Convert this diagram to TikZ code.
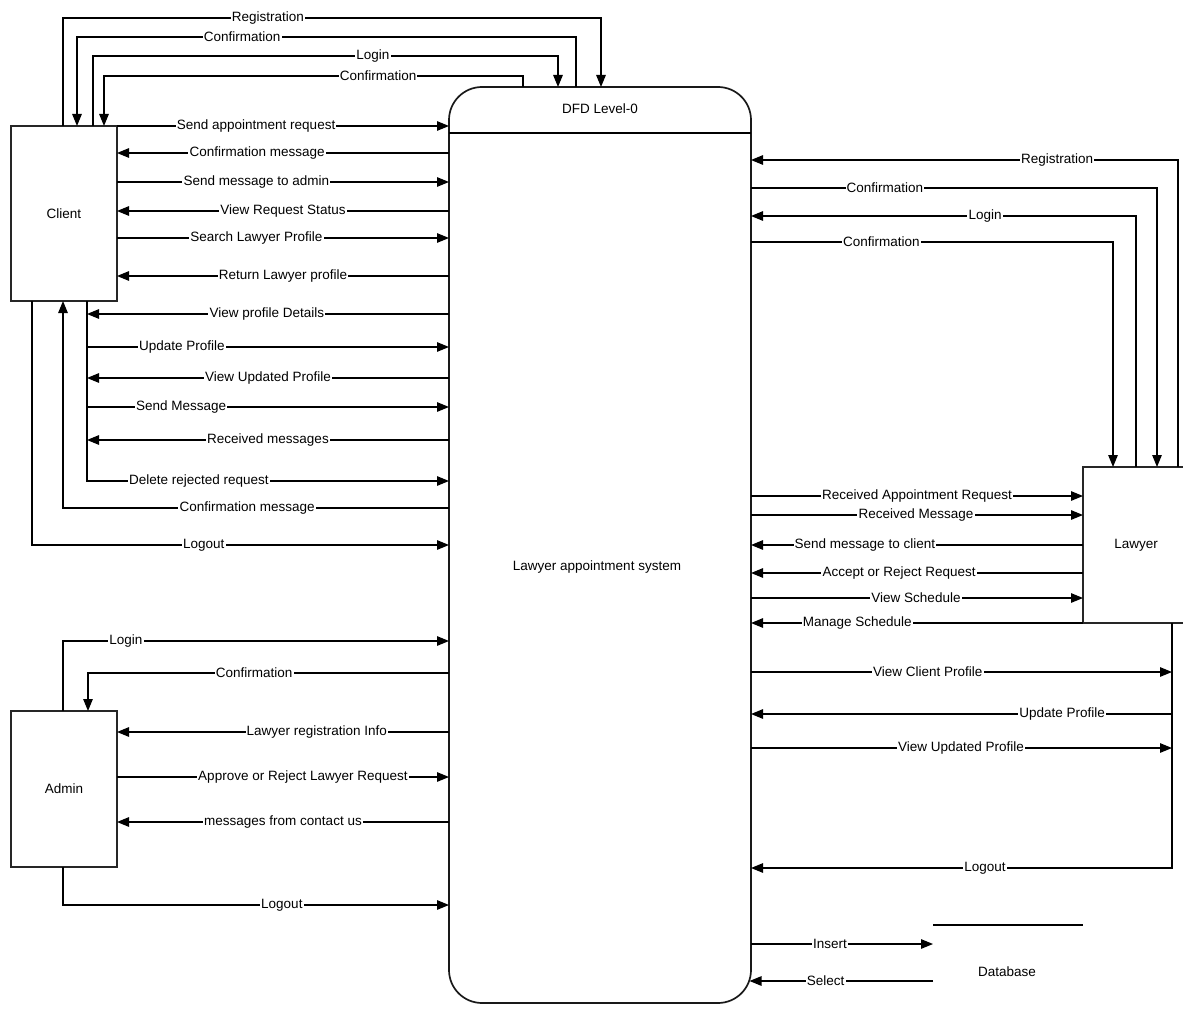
\documentclass[tikz,border=0pt]{standalone}
\usepackage{fontspec}
\setmainfont{Liberation Sans}
\usetikzlibrary{arrows.meta}
\newcommand{\lblfont}{\fontsize{13.5}{16}\selectfont}
\begin{document}
\begin{tikzpicture}[x=1pt,y=-1pt,
  box/.style={draw=black!85, line width=1.4pt, minimum width=106pt, inner sep=0pt, outer sep=0pt, font=\lblfont},
  proc/.style={draw=black!90, line width=1.7pt, rounded corners=33pt, minimum width=302pt, minimum height=916pt, inner sep=0pt, outer sep=0pt},
  lbl/.style={fill=white, inner xsep=1.2pt, inner ysep=0pt, font=\lblfont},
  txt/.style={font=\lblfont, inner sep=0pt},
  flow/.style={line width=1.25pt, -{Triangle[length=12pt,width=9.5pt]}},
  plain/.style={line width=1.25pt}
]
\useasboundingbox (0,0) rectangle (1183,1019);

% boxes
\node[proc] (proc) at (600,545) {};
\draw[line width=1.5pt] (proc.west |- 0,133) -- (proc.east |- 0,133);
\node[txt] (title) at (600,109) {DFD Level-0};
\node[txt] (sys) at (597,567) {Lawyer appointment system};
\node[box, minimum height=175pt] (client) at (64,213.5) {Client};
\node[box, minimum height=156pt] (admin) at (64,789) {Admin};
\node[box, minimum height=156pt] (lawyer) at (1136,545) {Lawyer};
\coordinate (dbL) at (933,925);
\coordinate (dbR) at (1083,925);
\draw[plain] (dbL) -- (dbR);
\node[txt] (db) at (1007,972) {Database};
\coordinate (lbot) at (1172,623);

% client top
\draw[flow] (client.north -| 63,0) -- (63,18) -- node[lbl,pos=0.381]{Registration} (601,18) -- (proc.north -| 601,0);
\draw[flow] (proc.north -| 576,0) -- (576,37) -- node[lbl,pos=0.669]{Confirmation} (77,37) -- (client.north -| 77,0);
\draw[flow] (client.north -| 93,0) -- (93,56) -- node[lbl,pos=0.602]{Login} (558,56) -- (proc.north -| 558,0);
\draw[flow] (proc.north -| 523,0) -- (523,76) -- node[lbl,pos=0.346]{Confirmation} (104,76) -- (client.north -| 104,0);

% client right
\draw[flow] (client.east |- 0,126) -- node[lbl,pos=0.419]{Send appointment request} (proc.west |- 0,126);
\draw[flow] (proc.west |- 0,153) -- node[lbl,pos=0.578]{Confirmation message} (client.east |- 0,153);
\draw[flow] (client.east |- 0,182) -- node[lbl,pos=0.42]{Send message to admin} (proc.west |- 0,182);
\draw[flow] (proc.west |- 0,211) -- node[lbl,pos=0.5]{View Request Status} (client.east |- 0,211);
\draw[flow] (client.east |- 0,238) -- node[lbl,pos=0.42]{Search Lawyer Profile} (proc.west |- 0,238);
\draw[flow] (proc.west |- 0,276) -- node[lbl,pos=0.5]{Return Lawyer profile} (client.east |- 0,276);

% client bottom
\draw[flow] (client.south -| 87,0) -- (87,481) -- node[lbl,pos=0.309]{Delete rejected request} (proc.west |- 0,481);
\draw[flow] (proc.west |- 0,314) -- node[lbl,pos=0.503]{View profile Details} (87,314);
\draw[flow] (87,347) -- node[lbl,pos=0.262]{Update Profile} (proc.west |- 0,347);
\draw[flow] (proc.west |- 0,378) -- node[lbl,pos=0.5]{View Updated Profile} (87,378);
\draw[flow] (87,407) -- node[lbl,pos=0.26]{Send Message} (proc.west |- 0,407);
\draw[flow] (proc.west |- 0,440) -- node[lbl,pos=0.5]{Received messages} (87,440);
\draw[flow] (proc.west |- 0,508) -- node[lbl,pos=0.523]{Confirmation message} (63,508) -- (client.south -| 63,0);
\draw[flow] (client.south -| 32,0) -- (32,545) -- node[lbl,pos=0.412]{Logout} (proc.west |- 0,545);

% admin
\draw[flow] (admin.north -| 63,0) -- (63,641) -- node[lbl,pos=0.163]{Login} (proc.west |- 0,641);
\draw[flow] (proc.west |- 0,673) -- node[lbl,pos=0.54]{Confirmation} (88,673) -- (admin.north -| 88,0);
\draw[flow] (proc.west |- 0,732) -- node[lbl,pos=0.398]{Lawyer registration Info} (admin.east |- 0,732);
\draw[flow] (admin.east |- 0,777) -- node[lbl,pos=0.56]{Approve or Reject Lawyer Request} (proc.west |- 0,777);
\draw[flow] (proc.west |- 0,822) -- node[lbl,pos=0.5]{messages from contact us} (admin.east |- 0,822);
\draw[flow] (admin.south -| 63,0) -- (63,905) -- node[lbl,pos=0.567]{Logout} (proc.west |- 0,905);

% lawyer top
\draw[flow] (lawyer.north -| 1178,0) -- (1178,160) -- node[lbl,pos=0.283]{Registration} (proc.east |- 0,160);
\draw[flow] (proc.east |- 0,188) -- node[lbl,pos=0.33]{Confirmation} (1157,188) -- (lawyer.north -| 1157,0);
\draw[flow] (lawyer.north -| 1136,0) -- (1136,216) -- node[lbl,pos=0.392]{Login} (proc.east |- 0,216);
\draw[flow] (proc.east |- 0,242) -- node[lbl,pos=0.36]{Confirmation} (1113,242) -- (lawyer.north -| 1113,0);

% lawyer left
\draw[flow] (proc.east |- 0,496) -- node[lbl,pos=0.5]{Received Appointment Request} (lawyer.west |- 0,496);
\draw[flow] (proc.east |- 0,515) -- node[lbl,pos=0.497]{Received Message} (lawyer.west |- 0,515);
\draw[flow] (lawyer.west |- 0,545) -- node[lbl,pos=0.657]{Send message to client} (proc.east |- 0,545);
\draw[flow] (lawyer.west |- 0,573) -- node[lbl,pos=0.554]{Accept or Reject Request} (proc.east |- 0,573);
\draw[flow] (proc.east |- 0,598) -- node[lbl,pos=0.497]{View Schedule} (lawyer.west |- 0,598);
\draw[flow] (lawyer.south west) -- node[lbl,pos=0.68]{Manage Schedule} (proc.east |- lawyer.south west);

% lawyer bottom
\draw[flow] (lbot) -- (1172,868) -- node[lbl,pos=0.444]{Logout} (proc.east |- 0,868);
\draw[flow] (proc.east |- 0,672) -- node[lbl,pos=0.42]{View Client Profile} (1172,672);
\draw[flow] (1172,714) -- node[lbl,pos=0.261]{Update Profile} (proc.east |- 0,714);
\draw[flow] (proc.east |- 0,748) -- node[lbl,pos=0.499]{View Updated Profile} (1172,748);

% database
\draw[flow] (proc.east |- 0,944) -- node[lbl,pos=0.434]{Insert} (dbL |- 0,944);
\draw[flow] (dbL |- 0,981) -- node[lbl,pos=0.585]{Select} (749.5,981);
\end{tikzpicture}
\end{document}
